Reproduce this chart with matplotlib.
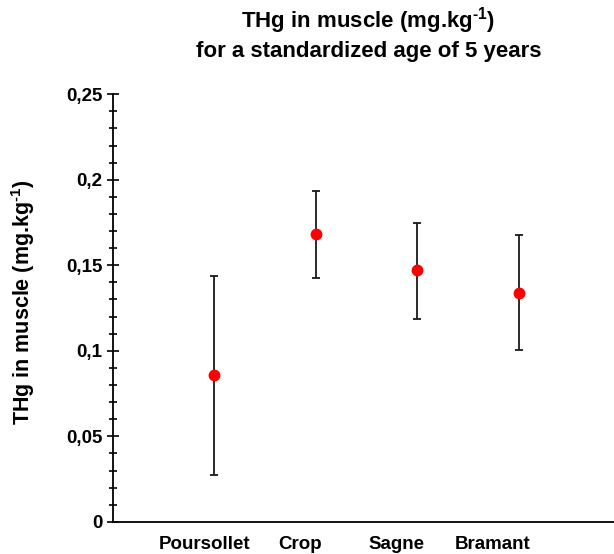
import matplotlib
matplotlib.use('Agg')
import matplotlib.pyplot as plt
from matplotlib.ticker import MultipleLocator, FuncFormatter
import numpy as np

plt.rcParams['font.family'] = ['Liberation Sans', 'DejaVu Sans']
plt.rcParams['font.weight'] = 'bold'
plt.rcParams['mathtext.fontset'] = 'custom'
plt.rcParams['mathtext.rm'] = 'Liberation Sans:bold'
plt.rcParams['mathtext.it'] = 'Liberation Sans:bold'
plt.rcParams['mathtext.bf'] = 'Liberation Sans:bold'
plt.rcParams['mathtext.default'] = 'rm'

# data
sites = ['Poursollet', 'Crop', 'Sagne', 'Bramant']
thg_mean = [0.0861, 0.1683, 0.1471, 0.1340]
thg_low = [0.0276, 0.1425, 0.1188, 0.1007]
thg_high = [0.1440, 0.1936, 0.1748, 0.1678]

x = np.arange(1, len(sites) + 1)
yerr = [np.array(thg_mean) - np.array(thg_low), np.array(thg_high) - np.array(thg_mean)]

fig = plt.figure(figsize=(6.14, 5.54), dpi=100)
ax = fig.add_axes([0.184, 0.058, 0.816, 0.772])

ax.errorbar(x, thg_mean, yerr=yerr, fmt='none', ecolor='#1a1a1a', elinewidth=1.3, capsize=3, capthick=1.3)
ax.plot(x, thg_mean, 'o', color='#ff0000', markersize=7.5, zorder=3)

ax.set_xlim(0, 4.94)
ax.set_ylim(0, 0.25)

# category labels sit a bit left of the points in the original
ax.set_xticks(x - np.array([0.10, 0.155, 0.20, 0.255]))
ax.set_xticklabels(sites, fontsize=13.5, fontweight='bold')
ax.tick_params(axis='x', length=0, pad=10)

ax.yaxis.set_major_locator(MultipleLocator(0.05))
ax.yaxis.set_minor_locator(MultipleLocator(0.01))
ax.yaxis.set_major_formatter(FuncFormatter(lambda v, p: f'{v:g}'.replace('.', ',')))
ax.tick_params(axis='y', which='major', direction='inout', length=9, width=1.2, labelsize=13.5, pad=3)
ax.tick_params(axis='y', which='minor', direction='inout', length=6, width=1.2)

for s in ['top', 'right']:
    ax.spines[s].set_visible(False)
for s in ['left', 'bottom']:
    ax.spines[s].set_linewidth(1.3)

ax.set_ylabel(r'THg in muscle (mg.kg$^{\text{-}1}$)', fontsize=15.5, fontweight='bold')
ax.yaxis.set_label_coords(-0.152, 0.513)
fig.text(0.6, 0.99, 'THg in muscle (mg.kg$^{\\text{-}1}$)\nfor a standardized age of 5 years',
         ha='center', va='top', fontsize=16, fontweight='bold', linespacing=1.3)

fig.savefig('out.png', dpi=100)
